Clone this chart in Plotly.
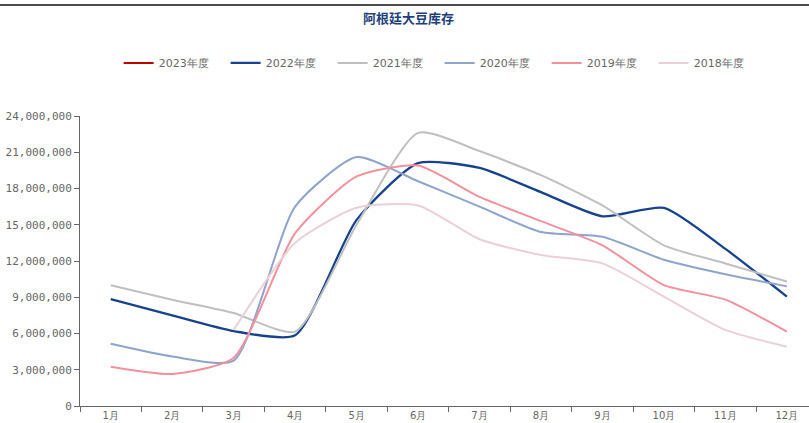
import plotly.graph_objects as go

months = ["1月", "2月", "3月", "4月", "5月", "6月", "7月", "8月", "9月", "10月", "11月", "12月"]

s2023 = [6500000, None, None, None, None, None, None, None, None, None, None, None]
s2022 = [8850000, 7500000, 6200000, 5850000, 15400000, 20100000, 19700000, 17700000, 15700000, 16400000, 13000000, 9050000]
s2021 = [10000000, 8800000, 7700000, 6150000, 15000000, 22600000, 21100000, 19100000, 16600000, 13300000, 11800000, 10300000]
s2020 = [5150000, 4100000, 3750000, 16500000, 20600000, 18600000, 16500000, 14400000, 14000000, 12100000, 10900000, 9900000]
s2019 = [3250000, 2650000, 4000000, 14300000, 19000000, 19900000, 17300000, 15300000, 13300000, 10000000, 8800000, 6150000]
s2018 = [None, None, 6300000, 13500000, 16400000, 16600000, 13800000, 12500000, 11800000, 9050000, 6300000, 4900000]

series = [
    ("2023年度", s2023, "#C00000", 2),
    ("2022年度", s2022, "#17428C", 2.3),
    ("2021年度", s2021, "#BFBFBF", 2),
    ("2020年度", s2020, "#8EA4CC", 2),
    ("2019年度", s2019, "#F0919D", 2),
    ("2018年度", s2018, "#EBD0D6", 2),
]

ytick_vals = [0, 3000000, 6000000, 9000000, 12000000, 15000000, 18000000, 21000000, 24000000]
ytick_text = ["0", "3,000,000", "6,000,000", "9,000,000", "12,000,000", "15,000,000",
              "18,000,000", "21,000,000", "24,000,000"]

fig = go.Figure()
for name, vals, color, w in series:
    fig.add_trace(go.Scatter(
        x=months, y=vals, name=name, mode="lines",
        line=dict(color=color, width=w, shape="spline", smoothing=0.6),
        connectgaps=False,
    ))

fig.update_layout(
    width=809, height=423,
    margin=dict(l=80, r=0, t=116, b=17),
    paper_bgcolor="white", plot_bgcolor="white",
    font=dict(family="DejaVu Sans", size=11, color="#666666"),
    title=dict(text="<b>阿根廷大豆库存</b>", x=0.505, xanchor="center", y=0.957, yanchor="middle",
               font=dict(family="Noto Sans CJK SC", size=13, color="#1F3F7A")),
    showlegend=True,
    legend=dict(orientation="h", x=0.053, xanchor="left", y=1.183, yanchor="middle",
                font=dict(family="DejaVu Sans", size=11, color="#666666"),
                entrywidth=62, entrywidthmode="pixels", bgcolor="rgba(0,0,0,0)"),
    xaxis=dict(type="category", range=[-0.5, 11.36], showgrid=False, zeroline=False,
               showline=True, linecolor="#666666", linewidth=1,
               ticks="outside", tickson="boundaries", ticklen=5, tickcolor="#666666",
               tickfont=dict(family="DejaVu Sans", size=10, color="#666666")),
    yaxis=dict(range=[0, 24000000], showgrid=False, zeroline=False,
               showline=True, linecolor="#666666", linewidth=1,
               ticks="outside", ticklen=5, tickcolor="#666666",
               tickvals=ytick_vals, ticktext=ytick_text,
               tickfont=dict(family="DejaVu Sans Mono", size=11, color="#666666")),
    shapes=[dict(type="line", xref="paper", yref="paper", x0=-0.12, x1=1.0, y0=1.383, y1=1.383,
                 line=dict(color="#111111", width=1.5))],
)

fig.write_html("out.html")
